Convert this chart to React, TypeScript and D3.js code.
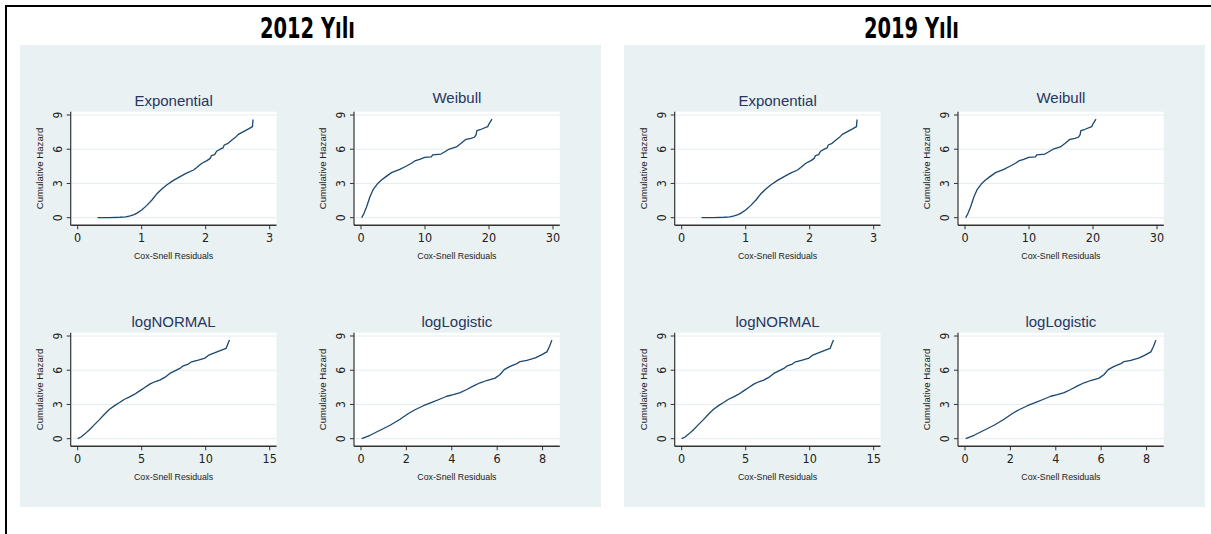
import React, { useRef, useEffect } from 'react';
import * as d3 from 'd3';

// panel titles and model names
const years = ['2012 Yılı', '2019 Yılı'];
const models = ['Exponential', 'Weibull', 'logNORMAL', 'logLogistic'];

// x axis domains and tick labels per model
const xDomains: [number, number][] = [[0, 3], [0, 30], [0, 15], [0, 8.46]];
const xTicks = [[0, 1, 2, 3], [0, 10, 20, 30], [0, 5, 10, 15], [0, 2, 4, 6, 8]];
const yTicks = [0, 3, 6, 9];

// cumulative hazard vs Cox-Snell residuals
const exponential: [number, number][] = [
  [0.31, 0], [0.5, 0.01], [0.66, 0.04], [0.75, 0.08], [0.82, 0.16], [0.88, 0.27], [0.92, 0.38], [1.0, 0.67],
  [1.08, 1.08], [1.16, 1.55], [1.23, 2.05], [1.31, 2.5], [1.39, 2.87], [1.49, 3.25],
  [1.6, 3.6], [1.7, 3.9], [1.81, 4.18], [1.86, 4.4], [1.94, 4.77], [2.02, 5.0],
  [2.07, 5.2], [2.09, 5.45], [2.14, 5.53], [2.17, 5.82], [2.25, 6.08], [2.27, 6.1], [2.29, 6.37],
  [2.35, 6.52], [2.41, 6.8], [2.46, 7.02], [2.51, 7.3], [2.59, 7.54], [2.67, 7.78],
  [2.73, 7.98], [2.74, 8.6],
];
const weibull: [number, number][] = [
  [0.1, 0], [0.47, 0.38], [0.88, 0.96], [1.4, 1.84], [1.92, 2.49], [2.54, 2.95],
  [3.2, 3.3], [3.9, 3.6], [4.77, 3.95], [6.06, 4.24], [7.1, 4.53], [7.88, 4.77],
  [8.4, 4.97], [9.17, 5.12], [9.95, 5.29], [10.98, 5.33], [11.2, 5.5], [12.5, 5.58],
  [13.3, 5.85], [13.8, 6.02], [14.9, 6.2], [15.65, 6.52], [16.4, 6.87], [17.2, 6.96],
  [17.7, 7.05], [17.98, 7.25], [18.1, 7.63], [18.76, 7.75], [19.8, 7.98], [20.05, 8.27],
  [20.47, 8.63],
];
const logNormal: [number, number][] = [
  [0, 0], [0.26, 0.15], [0.52, 0.38], [0.92, 0.79], [1.31, 1.23], [1.7, 1.67],
  [2.09, 2.14], [2.49, 2.58], [2.88, 2.9], [3.27, 3.17], [3.66, 3.46], [4.06, 3.67],
  [4.45, 3.9], [4.84, 4.19], [5.24, 4.49], [5.63, 4.78], [6.02, 4.99], [6.41, 5.13],
  [6.8, 5.37], [7.2, 5.72], [7.59, 5.95], [7.98, 6.16], [8.25, 6.39], [8.64, 6.54],
  [8.9, 6.74], [9.42, 6.89], [9.95, 7.07], [10.2, 7.3], [10.73, 7.54], [11.13, 7.71],
  [11.6, 7.92], [11.75, 8.36], [11.86, 8.65],
];
const logLogistic: [number, number][] = [
  [0.03, 0], [0.4, 0.3], [0.84, 0.74], [1.28, 1.18], [1.72, 1.71], [2.09, 2.21],
  [2.38, 2.54], [2.75, 2.89], [3.12, 3.19], [3.49, 3.48], [3.78, 3.72], [4.07, 3.86],
  [4.37, 4.04], [4.66, 4.31], [4.96, 4.63], [5.25, 4.9], [5.54, 5.1], [5.91, 5.31],
  [6.13, 5.63], [6.31, 6.05], [6.57, 6.34], [6.87, 6.58], [7.01, 6.76], [7.31, 6.87],
  [7.68, 7.08], [7.93, 7.32], [8.19, 7.61], [8.31, 8.11], [8.41, 8.64],
];
const curves = [exponential, weibull, logNormal, logLogistic];

const sans = "'Liberation Sans', Arial, sans-serif";
const narrow = "'Liberation Sans Narrow', 'DejaVu Sans Condensed', 'Liberation Sans', sans-serif";

const App = () => {
  const ref = useRef<SVGSVGElement>(null);

  useEffect(() => {
    const svg = d3.select(ref.current);
    svg.selectAll('*').remove();

    // outer frame (left and top edges only are visible)
    svg.append('line').attr('x1', 6).attr('y1', 5).attr('x2', 6).attr('y2', 534)
      .attr('stroke', '#000').attr('stroke-width', 2);
    svg.append('line').attr('x1', 5).attr('y1', 6).attr('x2', 1211).attr('y2', 6)
      .attr('stroke', '#000').attr('stroke-width', 2);

    const panelW = 581;
    const panelH = 462;

    years.forEach((year, p) => {
      const px = 20 + p * 604;
      const py = 45;

      svg.append('text')
        .attr('x', px + 287.5)
        .attr('y', 38)
        .attr('text-anchor', 'middle')
        .attr('font-family', narrow)
        .attr('font-weight', 'bold')
        .attr('font-size', 28)
        .attr('textLength', 95)
        .attr('lengthAdjust', 'spacingAndGlyphs')
        .attr('fill', '#000')
        .text(year);

      const panel = svg.append('g').attr('transform', `translate(${px}, ${py})`);
      panel.append('rect')
        .attr('width', panelW).attr('height', panelH)
        .attr('fill', '#eaf1f3');

      models.forEach((model, m) => {
        const c = m % 2;
        const r = Math.floor(m / 2);
        const g = panel.append('g')
          .attr('transform', `translate(${c * 283.3}, ${r * 221})`);

        const left = 50.7, right = 256.5, top = 66.7, bottom = 180.3;

        const x = d3.scaleLinear().domain(xDomains[m]).range([57.7, 249.7]);
        const y = d3.scaleLinear().domain([0, 9]).range([172.7, 70]);

        g.append('rect')
          .attr('x', left).attr('y', top)
          .attr('width', right - left).attr('height', bottom - top)
          .attr('fill', '#fff');

        // grid
        g.selectAll('.grid')
          .data(yTicks)
          .enter()
          .append('line')
          .attr('x1', left + 1).attr('x2', right)
          .attr('y1', (d) => y(d)).attr('y2', (d) => y(d))
          .attr('stroke', '#e3edf0')
          .attr('stroke-width', 1);

        // curve
        const line = d3.line<[number, number]>()
          .x((d) => x(d[0]))
          .y((d) => y(d[1]));
        g.append('path')
          .datum(curves[m])
          .attr('d', line)
          .attr('fill', 'none')
          .attr('stroke', '#1a476f')
          .attr('stroke-width', 1.3)
          .attr('stroke-linejoin', 'round');

        // axes
        g.append('line')
          .attr('x1', left).attr('x2', left).attr('y1', top).attr('y2', bottom)
          .attr('stroke', '#333').attr('stroke-width', 1.2);
        g.append('line')
          .attr('x1', left).attr('x2', right).attr('y1', bottom).attr('y2', bottom)
          .attr('stroke', '#333').attr('stroke-width', 1.5);

        g.selectAll('.ytick')
          .data(yTicks)
          .enter()
          .append('line')
          .attr('x1', left - 4).attr('x2', left)
          .attr('y1', (d) => y(d)).attr('y2', (d) => y(d))
          .attr('stroke', '#333').attr('stroke-width', 1);

        g.selectAll('.ylab')
          .data(yTicks)
          .enter()
          .append('text')
          .attr('transform', (d) => `translate(42, ${y(d)}) rotate(-90)`)
          .attr('text-anchor', 'middle')
          .attr('font-family', narrow)
          .attr('font-size', 12)
          .attr('fill', '#222')
          .text((d) => d);

        g.selectAll('.xtick')
          .data(xTicks[m])
          .enter()
          .append('line')
          .attr('x1', (d) => x(d)).attr('x2', (d) => x(d))
          .attr('y1', bottom).attr('y2', bottom + 4)
          .attr('stroke', '#333').attr('stroke-width', 1);

        g.selectAll('.xlab')
          .data(xTicks[m])
          .enter()
          .append('text')
          .attr('x', (d) => x(d))
          .attr('y', 196.5)
          .attr('text-anchor', 'middle')
          .attr('font-family', narrow)
          .attr('font-size', 12.5)
          .attr('fill', '#222')
          .text((d) => d);

        g.append('text')
          .attr('x', (left + right) / 2)
          .attr('y', 214)
          .attr('text-anchor', 'middle')
          .attr('font-family', sans)
          .attr('font-size', 8.8)
          .attr('fill', '#222')
          .text('Cox-Snell Residuals');

        g.append('text')
          .attr('transform', `translate(23, ${(top + bottom) / 2}) rotate(-90)`)
          .attr('text-anchor', 'middle')
          .attr('font-family', sans)
          .attr('font-size', 9.6)
          .attr('fill', '#222')
          .text('Cumulative Hazard');

        g.append('text')
          .attr('x', (left + right) / 2)
          .attr('y', m === 1 ? 57.7 : 61)
          .attr('text-anchor', 'middle')
          .attr('font-family', sans)
          .attr('font-size', 15)
          .attr('fill', '#25365f')
          .text(model);
      });
    });
  }, []);

  return (
    <svg
      ref={ref}
      width={1211}
      height={534}
      style={{ position: 'absolute', left: 0, top: 0, background: '#fff' }}
    />
  );
};

export default App;
